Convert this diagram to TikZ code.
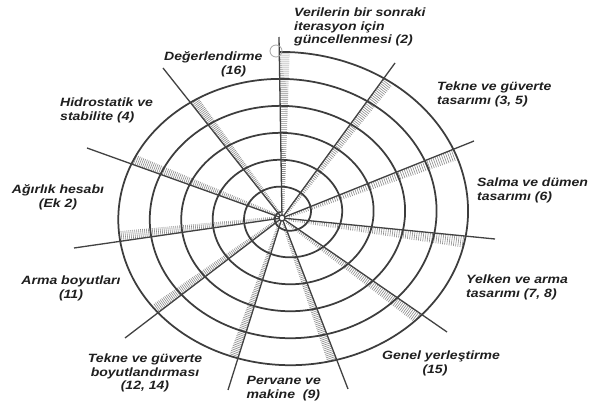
\documentclass[tikz,border=0pt]{standalone}
\usepackage{fontspec}
\newfontfamily\lblfont{Liberation Sans}[FakeStretch=1.17]
\usetikzlibrary{calc,intersections}
\begin{document}
\begin{tikzpicture}[x=1pt,y=-1pt,
  declare function={sx(\q)=285.3+31.5*(6.05-\q/360)*sin(\q); sy(\q)=215.3-27*(6.05-\q/360)*cos(\q);},
  spiralline/.style={draw=black!76, line width=1.75pt, line join=round},
  spokeline/.style={draw=black!74, line width=1.3pt},
  hatchline/.style={draw=black!45, line width=0.6pt},
  lbl/.style={font=\lblfont\bfseries\itshape\fontsize{12}{13.8}\selectfont, text=black!88, inner sep=0pt, align=left}]
\fill[white] (0,0) rectangle (590,403);
\useasboundingbox (0,0) rectangle (590,403);
\coordinate (hub) at (282,218);
\path[name path=outerturn] plot[domain=-3:350, samples=180] ({sx(\x)},{sy(\x)});
% hatched bands
\foreach \i/\ex/\ey in {1/279/37,2/395/63,3/474/141,4/495/239,5/447/332,6/348/389,7/228/390,8/125/338,9/74/248,10/87/148,11/163/68}{
  \coordinate (e\i) at (\ex,\ey);
  \path[name path=spk] (hub) -- (e\i);
  \path[name intersections={of=outerturn and spk, by={o\i}}];
  \coordinate (q\i) at ($(hub)!1!-3.6:(o\i)$);
  \coordinate (h\i) at ($(hub)!2pt!-90:(o\i)$);
  \foreach \t in {0.04,0.052,...,1.0}
    \draw[hatchline] ($(hub)!\t!(o\i)$) -- ($(h\i)!\t!(q\i)$);
}
% spiral
\draw[spiralline] plot[domain=-1.8:2110, samples=900, smooth] ({sx(\x)},{sy(\x)});
% spokes
\foreach \i in {1,...,11} \draw[spokeline] (hub) -- (e\i);
\draw[spokeline, fill=white] (hub) circle[radius=3pt];
\draw[black!35, line width=0.8pt] (276,51) circle[radius=6pt];
% labels
\node[lbl, anchor=north west] (l1) at (294,7.5) {Verilerin bir sonraki\\iterasyon için\\güncellenmesi (2)};
\node[lbl, anchor=north west] (l2) at (164,51.5) {Değerlendirme\\\hspace*{57pt}(16)};
\node[lbl, anchor=north west] (l3) at (60,98) {Hidrostatik ve\\stabilite (4)};
\node[lbl, align=center, anchor=north] (l4) at (58,184.5) {Ağırlık hesabı\\(Ek 2)};
\node[lbl, align=center, anchor=north] (l5) at (71,276) {Arma boyutları\\(11)};
\node[lbl, align=center, anchor=north] (l6) at (145,353.5) {Tekne ve güverte\\boyutlandırması\\(12, 14)};
\node[lbl, anchor=north west] (l7) at (246.5,376) {Pervane ve\\makine\ \ (9)};
\node[lbl, align=center, anchor=north] (l8) at (441,350.5) {Genel yerleştirme\\(15)\hspace*{12pt}};
\node[lbl, anchor=north west] (l9) at (466,275) {Yelken ve arma\\tasarımı (7, 8)};
\node[lbl, anchor=north west] (l10) at (477,177.5) {Salma ve dümen\\tasarımı (6)};
\node[lbl, anchor=north west] (l11) at (437,82) {Tekne ve güverte\\tasarımı (3, 5)};
\end{tikzpicture}
\end{document}
